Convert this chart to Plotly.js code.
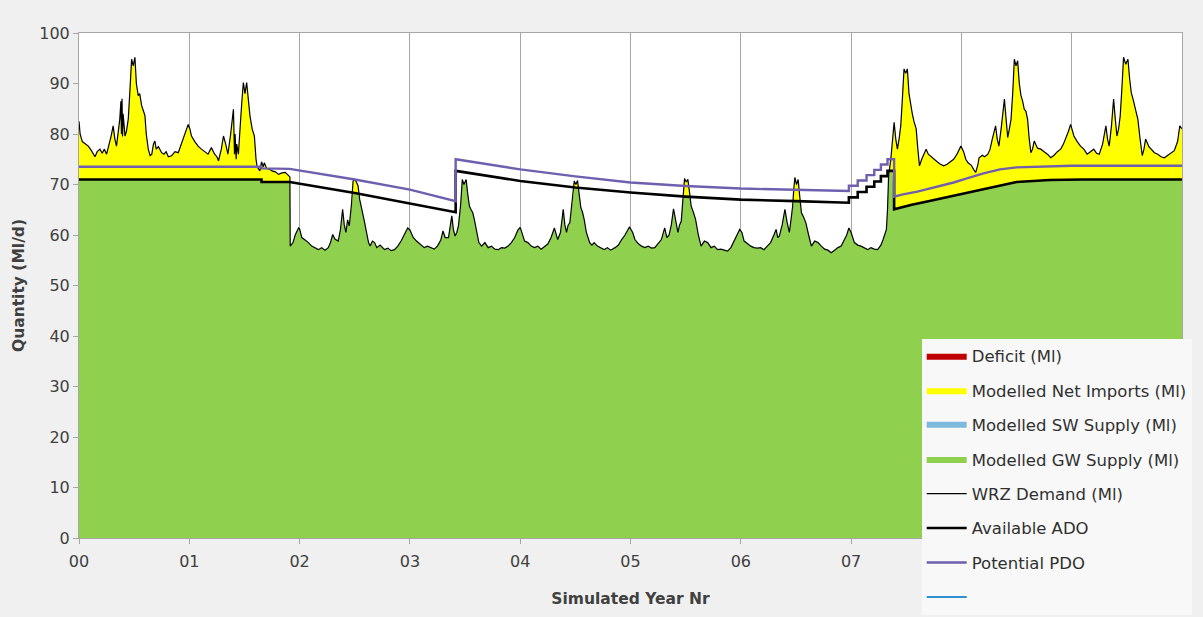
<!DOCTYPE html>
<html>
<head>
<meta charset="utf-8">
<script src="https://cdn.plot.ly/plotly-3.0.1.min.js"></script>
<style>
html,body{margin:0;padding:0;background:#f0f0f0;}
#chart{width:1203px;height:617px;}
</style>
</head>
<body>
<div id="chart"></div>
<script>
// ---- Data (x = simulated year, y = Ml/d) ----
const yearTicks = [0,1,2,3,4,5,6,7,8,9];
// labels for 08 and 09 are hidden behind the legend in the reference
const yearLabels = ['00','01','02','03','04','05','06','07','',''];

// WRZ Demand (Ml) as [year, value] pairs, per simulated year
const demandY0 = [[0,82.5],[0.01,80],[0.03,78.5],[0.06,78],[0.084,77.6],[0.11,76.8],[0.13,76],[0.145,75.5],[0.165,76.5],[0.19,77],[0.21,76.2],[0.23,77],[0.25,76],[0.27,77.6],[0.29,79.5],[0.31,81.6],[0.325,79],[0.34,77.6],[0.355,80],[0.37,83],[0.38,86.5],[0.385,80],[0.39,87],[0.395,79.5],[0.40,84],[0.417,79.6],[0.43,80.5],[0.447,83],[0.46,88],[0.477,94.8],[0.492,93.5],[0.507,95.2],[0.52,90],[0.537,87.6],[0.55,88],[0.568,85.6],[0.585,84.5],[0.598,83.6],[0.61,80],[0.628,77],[0.645,75.7],[0.66,76],[0.675,78],[0.688,78.6],[0.70,77],[0.72,77.5],[0.749,76.3],[0.77,76],[0.79,76.5],[0.81,75.5],[0.84,75.7],[0.87,76.5],[0.90,76.3],[0.92,77.5],[0.945,79],[0.97,80.5],[0.99,81.9]];
const demandY1 = [[1.005,81],[1.02,79.6],[1.05,78.5],[1.08,77.6],[1.11,77],[1.14,76.5],[1.17,76],[1.2,77.3],[1.23,76],[1.25,75.5],[1.265,74.7],[1.29,77],[1.31,79.6],[1.33,78],[1.35,76],[1.375,80],[1.40,84.9],[1.41,76],[1.415,80],[1.425,75],[1.43,78],[1.445,76],[1.46,81.6],[1.475,86],[1.49,90.2],[1.505,88],[1.52,90.2],[1.535,87],[1.55,83.6],[1.57,81],[1.59,79.6],[1.605,75],[1.615,73.5],[1.64,72.7],[1.655,74.5],[1.67,73.5],[1.68,74.3],[1.70,73.2],[1.73,73],[1.75,72.7],[1.78,72.5],[1.81,72],[1.84,72.3],[1.87,72.4],[1.90,71.7],[1.912,71.5]];
const demandY2 = [[1.915,57.8],[1.94,58.5],[1.96,60],[1.99,61.4],[2.00,61.2],[2.02,59.5],[2.05,59],[2.08,58.5],[2.11,57.8],[2.14,57.5],[2.17,57.1],[2.2,57.5],[2.23,57],[2.26,57.5],[2.28,58.5],[2.30,60.1],[2.32,59.2],[2.35,58.8],[2.37,61],[2.39,65.1],[2.405,62],[2.42,60.5],[2.435,63],[2.45,61.8],[2.47,66],[2.485,70.7],[2.50,71],[2.515,70.5],[2.53,69.7],[2.545,67],[2.56,65.1],[2.575,64],[2.59,62.4],[2.61,60],[2.625,58.5],[2.64,57.8],[2.66,58.8],[2.68,58.5],[2.70,57.5],[2.73,58],[2.77,57.1],[2.80,57.4],[2.83,56.9],[2.86,57.1],[2.89,57.8],[2.92,58.8],[2.95,60],[2.98,61.4]];
const demandY3 = [[3.00,61],[3.03,59.5],[3.06,58.8],[3.10,58.1],[3.13,57.5],[3.16,57.8],[3.19,57.5],[3.22,57.2],[3.25,57.8],[3.28,59],[3.30,60.8],[3.32,59.5],[3.35,59.5],[3.365,61.5],[3.38,63.8],[3.395,61],[3.41,59.8],[3.425,60.5],[3.44,61.8],[3.46,66],[3.475,71],[3.49,70],[3.51,71],[3.525,68],[3.54,65.7],[3.555,65],[3.57,64.4],[3.585,63],[3.60,61.1],[3.625,58.5],[3.65,57.8],[3.68,58.5],[3.71,57.5],[3.74,57.8],[3.77,57.2],[3.80,57.1],[3.83,57.5],[3.86,57.4],[3.89,57.8],[3.92,58.5],[3.95,59.5],[3.98,61],[4.0,61.5]];
const demandY4 = [[4.02,60],[4.04,58.8],[4.07,58.5],[4.10,57.8],[4.13,57.5],[4.16,57.8],[4.19,57.2],[4.22,57.8],[4.25,58.2],[4.28,59.5],[4.31,61.4],[4.34,59.1],[4.365,60.5],[4.39,65.1],[4.405,62],[4.42,60.5],[4.435,62],[4.45,62.4],[4.47,66],[4.49,70.7],[4.505,70],[4.52,70.8],[4.535,68],[4.55,65.4],[4.565,64.5],[4.58,63.1],[4.60,60.5],[4.63,58.5],[4.65,58],[4.67,58.5],[4.70,57.8],[4.73,57.4],[4.76,57.1],[4.79,57.5],[4.82,57],[4.86,57.5],[4.89,58],[4.92,59.1],[4.95,60],[4.99,61.6]];
const demandY5 = [[5.02,60.5],[5.04,59.1],[5.07,58.3],[5.10,57.8],[5.13,57.5],[5.16,57.8],[5.19,57.4],[5.22,57.5],[5.25,58.2],[5.28,59.1],[5.31,61.4],[5.33,59.5],[5.35,60],[5.37,62],[5.39,65.2],[5.41,62.5],[5.43,60.5],[5.445,62],[5.46,62.7],[5.475,67],[5.49,71.2],[5.505,70.5],[5.52,71],[5.535,68.5],[5.55,65.7],[5.57,64.5],[5.59,63.1],[5.615,60],[5.64,57.8],[5.67,58.8],[5.70,58.5],[5.73,57.5],[5.76,57.8],[5.79,57.1],[5.82,57.2],[5.85,57],[5.88,56.8],[5.91,57.5],[5.94,58.8],[5.97,60],[5.99,61.1]];
const demandY6 = [[6.01,60.5],[6.03,58.8],[6.06,58.3],[6.09,57.8],[6.12,57.5],[6.15,57.4],[6.18,57.5],[6.21,57.1],[6.24,57.8],[6.27,58.5],[6.30,60],[6.32,61.1],[6.335,59.5],[6.35,59.8],[6.375,62],[6.40,65.1],[6.42,62.5],[6.44,60.5],[6.455,63],[6.47,65.7],[6.48,69],[6.49,71.4],[6.505,70],[6.52,71],[6.535,67.5],[6.55,64.4],[6.57,63.5],[6.59,62.4],[6.615,60],[6.64,57.8],[6.67,58.8],[6.70,58.5],[6.73,57.8],[6.76,57.2],[6.79,57],[6.82,56.5],[6.85,57],[6.88,57.5],[6.91,57.8],[6.94,59],[6.96,60],[6.98,61.4]];
const demandY7 = [[7.00,60.5],[7.03,58.5],[7.06,58],[7.09,57.8],[7.12,57.4],[7.15,57.1],[7.18,57.5],[7.21,57.2],[7.24,57.1],[7.27,58],[7.29,59.1],[7.31,60.5],[7.32,61.1],[7.33,65],[7.34,71.7],[7.36,75],[7.375,79],[7.39,82.3],[7.405,79],[7.42,77],[7.435,79],[7.45,81.6],[7.465,87],[7.48,92.9],[7.495,92],[7.51,92.9],[7.525,88],[7.54,85.6],[7.555,84],[7.57,82.5],[7.59,81],[7.605,77],[7.62,73.7],[7.64,75],[7.66,76],[7.68,77],[7.70,76],[7.725,75.5],[7.75,75],[7.78,74.5],[7.81,74],[7.84,73.7],[7.87,74],[7.90,74.5],[7.93,75],[7.96,76],[7.995,77.6]];
const demandY8 = [[8.02,76.5],[8.04,75],[8.06,74.3],[8.09,73.8],[8.11,73],[8.13,72.4],[8.15,74],[8.16,75.3],[8.19,75.8],[8.21,75.5],[8.24,76],[8.26,77],[8.28,79],[8.31,81.6],[8.325,79],[8.34,77.6],[8.36,81],[8.375,84],[8.39,86.9],[8.405,83],[8.42,79.3],[8.435,81],[8.45,82.9],[8.465,88],[8.48,94.8],[8.495,93.5],[8.51,94.5],[8.525,90],[8.54,87.6],[8.555,86.5],[8.57,84.9],[8.585,84.5],[8.60,82.9],[8.615,79],[8.63,76.3],[8.645,77],[8.66,78.6],[8.69,77.2],[8.72,77],[8.75,76.5],[8.78,76],[8.81,75.3],[8.84,75.8],[8.87,76.5],[8.90,77],[8.925,78],[8.95,79.3],[8.97,80.5],[8.99,81.9]];
const demandY9 = [[9.02,79.6],[9.05,78.5],[9.08,77.6],[9.11,77],[9.14,76],[9.17,76.5],[9.20,77],[9.225,76.2],[9.25,76],[9.28,78],[9.31,81.6],[9.325,79],[9.34,77.6],[9.36,81.5],[9.38,86.9],[9.395,83],[9.41,79.6],[9.425,81],[9.44,83.6],[9.455,89],[9.47,95.2],[9.49,93.8],[9.51,94.8],[9.525,91],[9.54,88.2],[9.555,87],[9.57,85.6],[9.585,84.5],[9.60,82.9],[9.62,79],[9.64,75.7],[9.655,77],[9.67,79],[9.70,77.5],[9.75,76.3],[9.78,76],[9.81,75.5],[9.84,75.3],[9.87,75.8],[9.90,76.2],[9.93,76.7],[9.96,78.5],[9.98,81.6],[10.0,81]];

// Available ADO (Ml/d): [year, value]
const adoPoints = [[0,71],[1.655,71],[1.655,70.5],[1.91,70.5],[2.5,68.3],[3.0,66.3],[3.415,64.5],[3.415,72.7],[4.0,70.7],[4.5,69.4],[5.0,68.4],[5.5,67.6],[6.0,67.0],[6.5,66.7],[6.98,66.4],[6.98,67.45],[7.06,67.45],[7.06,68.5],[7.14,68.5],[7.14,69.55],[7.21,69.55],[7.21,70.6],[7.27,70.6],[7.27,71.65],[7.33,71.65],[7.33,72.7],[7.39,72.7],[7.39,65.1],[7.46,65.5],[7.55,66.0],[7.7,66.7],[7.85,67.4],[8.0,68.2],[8.19,69.0],[8.35,69.8],[8.5,70.5],[8.8,70.9],[9.1,71.0],[10,71.0]];
// Potential PDO (Ml/d): [year, value]
const pdoPoints = [[0,73.5],[1.655,73.5],[1.655,73.2],[1.91,73.1],[2.5,71.0],[3.0,69.0],[3.415,66.7],[3.415,75.0],[4.0,73.0],[4.5,71.6],[5.0,70.4],[5.5,69.7],[6.0,69.2],[6.5,68.9],[6.98,68.7],[6.98,69.75],[7.06,69.75],[7.06,70.8],[7.14,70.8],[7.14,71.85],[7.21,71.85],[7.21,72.9],[7.27,72.9],[7.27,73.95],[7.33,73.95],[7.33,75.0],[7.39,75.0],[7.39,67.6],[7.46,68.0],[7.6,68.6],[7.75,69.4],[7.93,70.4],[8.05,71.2],[8.2,72.2],[8.35,73.0],[8.5,73.4],[9.0,73.7],[10,73.7]];

// ---- Build series ----
const demand = [].concat(demandY0,demandY1,demandY2,demandY3,demandY4,demandY5,demandY6,demandY7,demandY8,demandY9);
const demandT = demand.map(p=>p[0]);
const demandV = demand.map(p=>p[1]);
const adoT = adoPoints.map(p=>p[0]), adoV = adoPoints.map(p=>p[1]);
const pdoT = pdoPoints.map(p=>p[0]), pdoV = pdoPoints.map(p=>p[1]);

function adoAt(t){
  for(let i=adoT.length-1;i>0;i--){
    if(t>=adoT[i-1] && t<=adoT[i]){
      const a=adoT[i-1], b=adoT[i];
      if(b===a) return adoV[i];
      return adoV[i-1]+(adoV[i]-adoV[i-1])*(t-a)/(b-a);
    }
  }
  return adoV[adoV.length-1];
}
// GW supply meets demand up to the ADO; the rest is net imports (stacked on top)
const gwV = demandT.map((t,i)=>Math.min(demandV[i], adoAt(t)));

const GREEN = '#8fd14f', YELLOW = '#ffff00', PURPLE = '#6f5fae';
const traces = [
  {name:'Modelled GW Supply (Ml)', x:demandT, y:gwV, type:'scatter', mode:'lines', fill:'tozeroy', fillcolor:GREEN, line:{width:0, color:GREEN}, legendgroup:'g4', legendrank:4, hoverinfo:'skip'},
  {name:'Modelled Net Imports (Ml)', x:demandT, y:demandV, type:'scatter', mode:'lines', fill:'tonexty', fillcolor:YELLOW, line:{width:0, color:YELLOW}, legendgroup:'g2', legendrank:2, hoverinfo:'skip'},
  {name:'Deficit (Ml)', x:[null], y:[null], type:'scatter', mode:'lines', fill:'tozeroy', fillcolor:'#c00000', line:{width:0,color:'#c00000'}, legendgroup:'g1', legendrank:1},
  {name:'Modelled SW Supply (Ml)', x:[null], y:[null], type:'scatter', mode:'lines', line:{width:6,color:'#7db8dd'}, legendgroup:'g3', legendrank:3},
  {name:'WRZ Demand (Ml)', x:demandT, y:demandV, type:'scatter', mode:'lines', line:{width:1.2,color:'#000000'}, legendgroup:'g5', legendrank:5},
  {name:'Available ADO', x:adoT, y:adoV, type:'scatter', mode:'lines', line:{width:2.6,color:'#000000'}, legendgroup:'g6', legendrank:6},
  {name:'Potential PDO', x:pdoT, y:pdoV, type:'scatter', mode:'lines', line:{width:2.4,color:PURPLE}, legendgroup:'g7', legendrank:7},
  {name:' ', x:[null], y:[null], type:'scatter', mode:'lines', line:{width:2,color:'#2f8fd0'}, legendgroup:'g8', legendrank:8}
];

const FONT = 'DejaVu Sans, Verdana, sans-serif';
const layout = {
  width:1203, height:617,
  margin:{l:79, r:21, t:33, b:79, autoexpand:false},
  paper_bgcolor:'#f0f0f0', plot_bgcolor:'#ffffff',
  font:{family:FONT, size:15, color:'#404040'},
  showlegend:true,
  legend:{x:0.764, y:0.395, xanchor:'left', yanchor:'top', bgcolor:'#f8f8f8', borderwidth:0,
          font:{family:FONT, size:16.5, color:'#303030'}, traceorder:'grouped', tracegroupgap:10, itemwidth:40},
  xaxis:{range:[0,10], tickvals:yearTicks, ticktext:yearLabels, showgrid:true, gridcolor:'#a6a6a6', gridwidth:1,
         showline:true, linecolor:'#a6a6a6', linewidth:1, mirror:true, ticks:'outside', ticklen:5, tickcolor:'#a6a6a6',
         ticklabelstandoff:4, automargin:false,
         zeroline:false, tickfont:{family:FONT, size:16, color:'#404040'},
         title:{text:'<b>Simulated Year Nr</b>', font:{family:FONT, size:15.5, color:'#404040'}, standoff:22}},
  yaxis:{range:[0,100], dtick:10, showgrid:false, showline:true, linecolor:'#a6a6a6', linewidth:1, mirror:true,
         ticks:'outside', ticklen:5, tickcolor:'#a6a6a6', zeroline:false, tickfont:{family:FONT, size:16, color:'#404040'},
         automargin:false,
         title:{text:'<b>Quantity (Ml/d)</b>', font:{family:FONT, size:15.5, color:'#404040'}, standoff:10}}
};
Plotly.newPlot('chart', traces, layout, {displayModeBar:false, staticPlot:true});
</script>
</body>
</html>
